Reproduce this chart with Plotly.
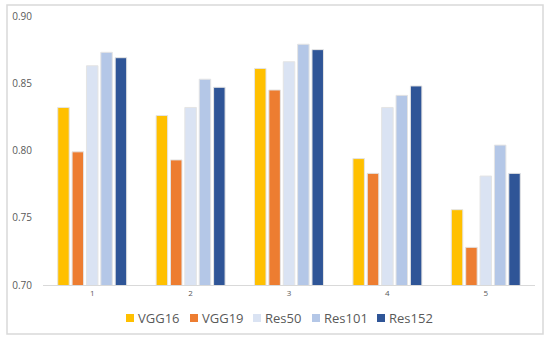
import plotly.graph_objects as go

categories = ["1", "2", "3", "4", "5"]
vgg16 = [0.832, 0.826, 0.861, 0.794, 0.756]
vgg19 = [0.799, 0.793, 0.845, 0.783, 0.728]
res50 = [0.863, 0.832, 0.866, 0.832, 0.781]
res101 = [0.873, 0.853, 0.879, 0.841, 0.804]
res152 = [0.869, 0.847, 0.875, 0.848, 0.783]

series_names = ["VGG16", "VGG19", "Res50", "Res101", "Res152"]
series_values = [vgg16, vgg19, res50, res101, res152]
series_colors = ["#FFC000", "#ED7D31", "#DAE3F3", "#B4C7E7", "#2F5597"]

L, R, T, B = 43, 15, 16, 56
W, H = 550, 341
PW = W - L - R
PH = H - T - B


def px_x(px):
    return (px - L) / PW


def px_y(py):
    return (H - B - py) / PH


fig = go.Figure()
for name, vals, color in zip(series_names, series_values, series_colors):
    fig.add_trace(go.Bar(
        x=categories, y=vals, name=name,
        marker=dict(color=color, line=dict(color="#E4E4E4", width=1)),
    ))

# manual legend (Excel style: small squares close to the text)
legend_marker_px = [126, 190, 253, 312, 377]
shapes = []
annotations = []
ly = 318
for name, color, mx in zip(series_names, series_colors, legend_marker_px):
    shapes.append(dict(type="rect", xref="paper", yref="paper",
                       x0=px_x(mx), x1=px_x(mx + 8), y0=px_y(ly + 4), y1=px_y(ly - 4),
                       line=dict(width=0), fillcolor=color))
    annotations.append(dict(text=name, xref="paper", yref="paper",
                            x=px_x(mx + 10), y=px_y(ly), xanchor="left", yanchor="middle",
                            showarrow=False, font=dict(size=13, color="#595959")))

shapes.append(dict(type="rect", xref="paper", yref="paper",
                   x0=px_x(7), x1=px_x(543), y0=px_y(334), y1=px_y(5),
                   line=dict(color="#D9D9D9", width=1.5), fillcolor="rgba(0,0,0,0)",
                   layer="below"))

fig.update_layout(
    width=W, height=H,
    margin=dict(l=L, r=R, t=T, b=B),
    paper_bgcolor="white", plot_bgcolor="white",
    barmode="group", bargap=0.27, bargroupgap=0.2,
    font=dict(family="Open Sans, Liberation Sans, sans-serif", color="#595959"),
    showlegend=False,
    xaxis=dict(showline=True, linecolor="#D9D9D9", linewidth=1, automargin=False,
               tickfont=dict(size=8, color="#595959"), ticks="", showgrid=False),
    yaxis=dict(range=[0.70, 0.90], dtick=0.05, tickformat=".2f", showgrid=False,
               zeroline=False, showline=False, automargin=False,
               tickfont=dict(size=10, color="#595959"), ticklabelstandoff=10),
    shapes=shapes,
    annotations=annotations,
)

fig.write_html("out.html", config={"displayModeBar": False},
               post_script="document.body.style.margin='0';document.body.style.overflow='hidden';")
